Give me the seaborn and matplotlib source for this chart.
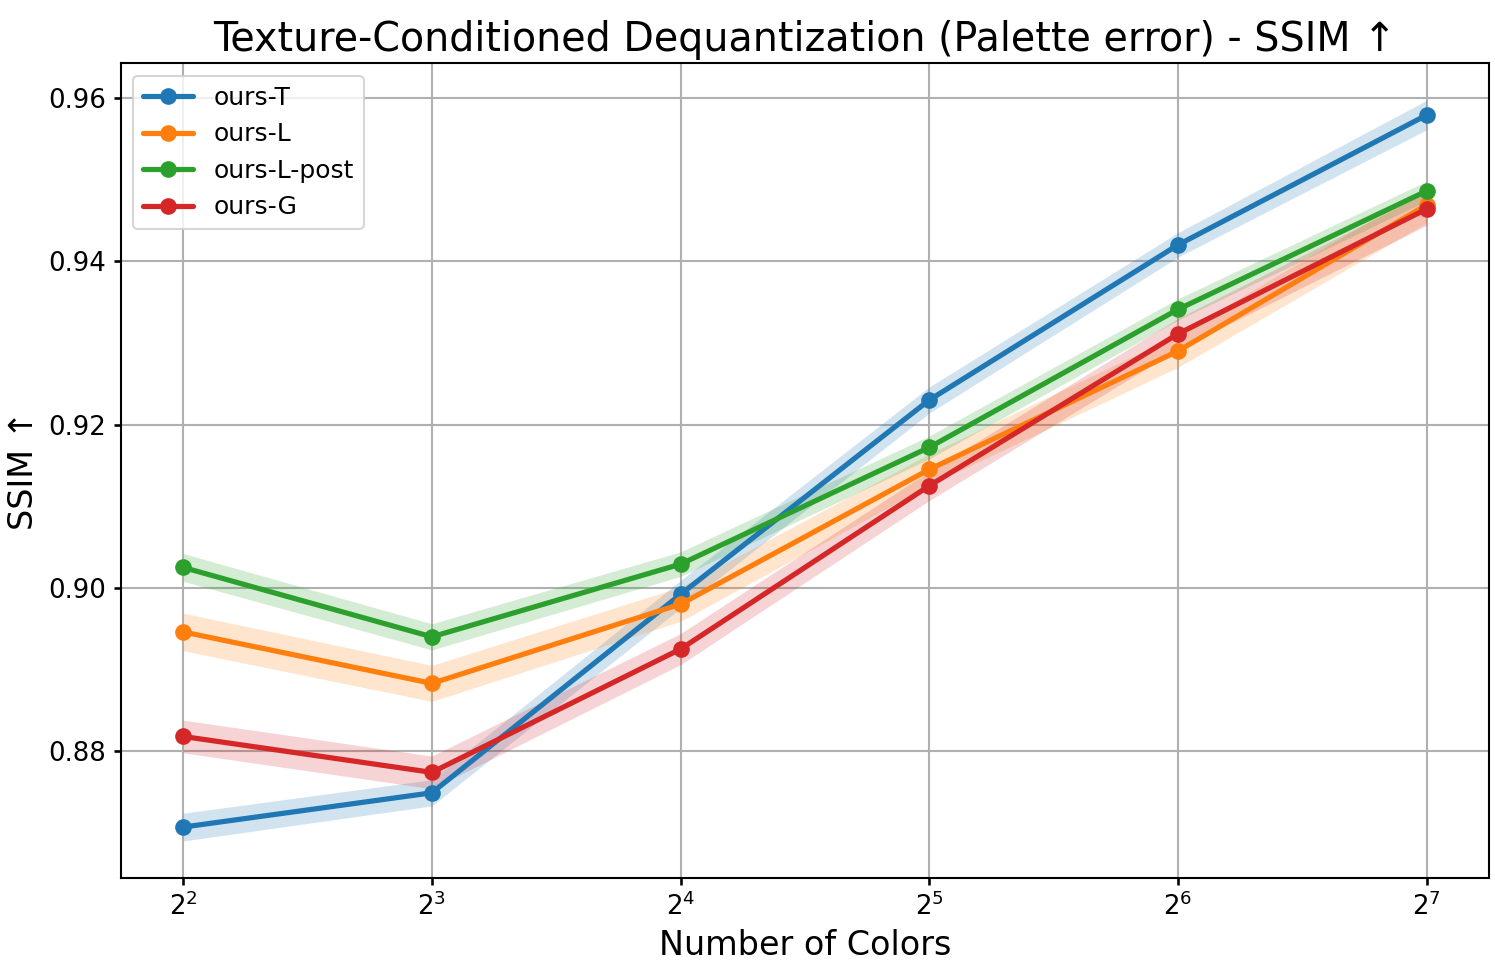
import numpy as np
import pandas as pd
import seaborn as sns
import matplotlib
matplotlib.use("Agg")
import matplotlib.pyplot as plt

colors_n = [4, 8, 16, 32, 64, 128]
tick_labels = ["$2^{2}$", "$2^{3}$", "$2^{4}$", "$2^{5}$", "$2^{6}$", "$2^{7}$"]
methods = ["ours-T", "ours-L", "ours-L-post", "ours-G"]

ssim_T = [0.8707, 0.8749, 0.8992, 0.9230, 0.9420, 0.9579]
ssim_L = [0.8946, 0.8883, 0.8980, 0.9145, 0.9290, 0.9469]
ssim_Lpost = [0.9025, 0.8940, 0.9029, 0.9172, 0.9341, 0.9486]
ssim_G = [0.8818, 0.8774, 0.8925, 0.9125, 0.9311, 0.9464]

err_T = [0.0017, 0.0016, 0.0017, 0.0016, 0.0015, 0.0018]
err_L = [0.0023, 0.0022, 0.0021, 0.0019, 0.0020, 0.0022]
err_Lpost = [0.0017, 0.0016, 0.0015, 0.0014, 0.0013, 0.0012]
err_G = [0.0020, 0.0020, 0.0019, 0.0018, 0.0019, 0.0020]

series = {"ours-T": (ssim_T, err_T), "ours-L": (ssim_L, err_L),
          "ours-L-post": (ssim_Lpost, err_Lpost), "ours-G": (ssim_G, err_G)}

rows = []
for m in methods:
    for x, v in zip(colors_n, series[m][0]):
        rows.append({"colors": x, "ssim": v, "method": m})
df = pd.DataFrame(rows)

sns.set_theme(style="ticks", rc={"text.color": "black", "axes.labelcolor": "black",
                                 "xtick.color": "black", "ytick.color": "black",
                                 "axes.edgecolor": "black"})
plt.rcParams['font.family'] = ['DejaVu Sans']
palette = sns.color_palette("tab10", 4)

fig = plt.figure(figsize=(9.967, 6.46), dpi=150)
ax = fig.add_axes([0.0809, 0.0939, 0.915, 0.8408])

for m, c in zip(methods, palette):
    v, e = series[m]
    v = np.array(v); e = np.array(e)
    ax.fill_between(colors_n, v - e, v + e, color=c, alpha=0.2, linewidth=0)

sns.lineplot(data=df, x="colors", y="ssim", hue="method", hue_order=methods,
             palette=palette, marker="o", markersize=8, markeredgewidth=0,
             linewidth=2.5, ax=ax)

ax.set_xscale("log", base=2)
ax.set_xticks(colors_n)
ax.set_xticklabels(tick_labels)
ax.minorticks_off()
ax.set_yticks([0.88, 0.90, 0.92, 0.94, 0.96])
ax.set_yticklabels(["0.88", "0.90", "0.92", "0.94", "0.96"])
ax.grid(True, color="#b0b0b0", linewidth=1.0)
ax.tick_params(labelsize=12.5, length=3.5, color="black", labelcolor="black")
for s in ax.spines.values():
    s.set_color("black")
    s.set_linewidth(1.0)
ax.set_xlabel("Number of Colors", fontsize=16, color="black")
ax.set_ylabel("SSIM ↑", fontsize=16, color="black")
ax.set_title("Texture-Conditioned Dequantization (Palette error) - SSIM ↑", fontsize=19, color="black")
leg = ax.legend(loc="upper left", fontsize=12, title=None)
for t in leg.get_texts():
    t.set_color("black")
fig.savefig("out.png", dpi=150)
